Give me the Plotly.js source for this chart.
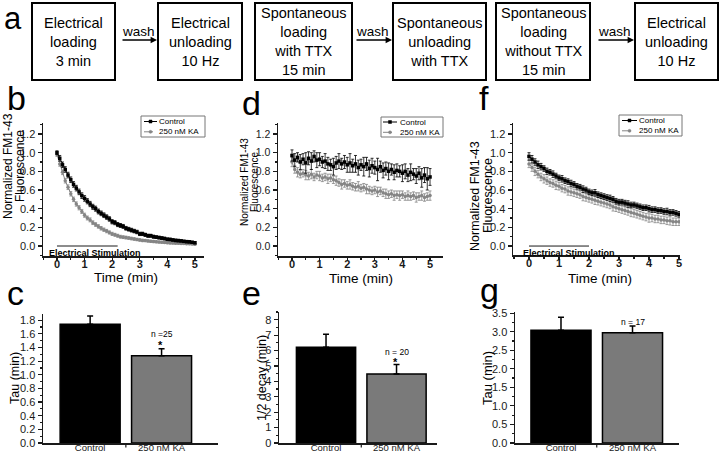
<!DOCTYPE html>
<html><head><meta charset="utf-8">
<script src="https://cdn.plot.ly/plotly-3.0.1.min.js"></script>
<style>html,body{margin:0;padding:0;background:#fff}#chart{width:720px;height:455px}</style>
</head><body><div id="chart"></div>
<script>
// ---------- DATA ----------
const steps = ["Electrical<br>loading<br>3 min", "Electrical<br>unloading<br>10 Hz",
  "Spontaneous<br>loading<br>with TTX<br>15 min", "Spontaneous<br>unloading<br>with TTX",
  "Spontaneous<br>loading<br>without TTX<br>15 min", "Electrical<br>unloading<br>10 Hz"];
const washLabel = "wash";
const seriesNames = ["Control", "250 nM KA"];
const groups = ["Control", "250 nM KA"];

const time = [0,0.1,0.2,0.3,0.4,0.5,0.6,0.7,0.8,0.9,1.0,1.1,1.2,1.3,1.4,1.5,1.6,1.7,1.8,1.9,
  2.0,2.1,2.2,2.3,2.4,2.5,2.6,2.7,2.8,2.9,3.0,3.1,3.2,3.3,3.4,3.5,3.6,3.7,3.8,3.9,
  4.0,4.1,4.2,4.3,4.4,4.5,4.6,4.7,4.8,4.9,5.0];

// panel b
const bCtrl = [1.00,0.94,0.87,0.82,0.76,0.71,0.66,0.62,0.58,0.54,
  0.51,0.48,0.45,0.42,0.40,0.37,0.35,0.33,0.31,0.29,
  0.26,0.25,0.23,0.22,0.21,0.19,0.18,0.17,0.16,0.15,
  0.13,0.13,0.12,0.11,0.11,0.10,0.095,0.09,0.085,0.08,
  0.072,0.07,0.065,0.06,0.058,0.055,0.05,0.047,0.045,0.04,0.035];
const bCtrlErr = [0.02,0.03,0.03,0.03,0.03,0.03,0.03,0.03,0.03,0.03,
  0.03,0.028,0.028,0.027,0.027,0.026,0.025,0.025,0.024,0.024,
  0.023,0.022,0.022,0.021,0.021,0.02,0.02,0.02,0.019,0.019,
  0.018,0.018,0.017,0.017,0.016,0.016,0.015,0.015,0.015,0.014,
  0.014,0.014,0.013,0.013,0.013,0.012,0.012,0.012,0.012,0.011,0.011];
const bKA = [0.98,0.88,0.79,0.70,0.63,0.56,0.50,0.45,0.41,0.37,
  0.33,0.30,0.28,0.25,0.23,0.21,0.19,0.175,0.16,0.145,
  0.13,0.12,0.11,0.10,0.095,0.09,0.085,0.08,0.075,0.07,
  0.065,0.06,0.058,0.055,0.05,0.048,0.045,0.042,0.04,0.038,
  0.035,0.033,0.031,0.03,0.029,0.027,0.026,0.025,0.024,0.022,0.02];
const bKAErr = [0.02,0.025,0.025,0.025,0.025,0.024,0.024,0.023,0.023,0.022,
  0.022,0.021,0.021,0.02,0.02,0.019,0.019,0.018,0.018,0.017,
  0.017,0.016,0.016,0.015,0.015,0.015,0.014,0.014,0.014,0.013,
  0.013,0.013,0.012,0.012,0.012,0.012,0.011,0.011,0.011,0.011,
  0.01,0.01,0.01,0.01,0.01,0.01,0.01,0.01,0.01,0.01,0.01];

// panel d
const dCtrl = [0.97,0.92,0.95,0.90,0.93,0.89,0.94,0.91,0.96,0.92,
  0.93,0.90,0.91,0.88,0.87,0.85,0.89,0.91,0.88,0.90,
  0.87,0.89,0.86,0.88,0.84,0.87,0.85,0.88,0.83,0.86,
  0.84,0.82,0.85,0.81,0.83,0.80,0.82,0.79,0.81,0.80,
  0.78,0.80,0.76,0.79,0.77,0.75,0.78,0.73,0.76,0.72,0.74];
const dCtrlErr = [0.06,0.07,0.05,0.08,0.06,0.11,0.07,0.09,0.06,0.08,
  0.07,0.06,0.08,0.07,0.06,0.09,0.07,0.08,0.06,0.07,
  0.08,0.10,0.07,0.09,0.08,0.06,0.10,0.07,0.09,0.08,
  0.07,0.12,0.06,0.08,0.07,0.09,0.06,0.08,0.07,0.06,
  0.09,0.08,0.07,0.09,0.06,0.08,0.07,0.10,0.08,0.12,0.09];
const dKA = [0.90,0.82,0.79,0.77,0.78,0.76,0.75,0.77,0.74,0.76,
  0.75,0.73,0.74,0.72,0.73,0.71,0.70,0.68,0.66,0.67,
  0.65,0.66,0.64,0.63,0.64,0.62,0.63,0.61,0.60,0.59,
  0.60,0.58,0.59,0.57,0.56,0.55,0.56,0.54,0.55,0.54,
  0.55,0.53,0.54,0.53,0.54,0.52,0.53,0.54,0.52,0.53,0.54];
const dKAErr = [0.05,0.04,0.05,0.04,0.04,0.05,0.04,0.05,0.04,0.04,
  0.05,0.04,0.04,0.05,0.04,0.04,0.05,0.04,0.05,0.04,
  0.04,0.05,0.04,0.04,0.05,0.04,0.04,0.05,0.04,0.04,
  0.04,0.05,0.04,0.04,0.05,0.04,0.04,0.05,0.04,0.05,
  0.04,0.04,0.05,0.04,0.04,0.05,0.04,0.05,0.04,0.04,0.05];

// panel f
const fCtrl = [0.96,0.93,0.90,0.87,0.85,0.83,0.80,0.79,0.77,0.75,
  0.73,0.72,0.70,0.69,0.67,0.66,0.64,0.63,0.61,0.60,
  0.58,0.57,0.57,0.55,0.54,0.53,0.52,0.51,0.50,0.48,
  0.47,0.47,0.46,0.45,0.44,0.44,0.43,0.42,0.41,0.41,
  0.40,0.39,0.39,0.38,0.38,0.37,0.37,0.36,0.36,0.35,0.34];
const fCtrlErr = [0.04,0.04,0.035,0.04,0.035,0.03,0.035,0.03,0.035,0.03,
  0.03,0.035,0.03,0.03,0.035,0.03,0.03,0.03,0.035,0.03,
  0.03,0.03,0.035,0.03,0.03,0.03,0.03,0.035,0.03,0.03,
  0.03,0.03,0.03,0.035,0.03,0.03,0.03,0.03,0.03,0.03,
  0.035,0.03,0.03,0.03,0.03,0.03,0.035,0.03,0.03,0.03,0.03];
const fKA = [0.88,0.84,0.80,0.77,0.74,0.72,0.70,0.68,0.67,0.65,
  0.64,0.62,0.61,0.59,0.58,0.57,0.56,0.55,0.53,0.52,
  0.51,0.50,0.49,0.48,0.47,0.46,0.45,0.44,0.42,0.41,
  0.40,0.39,0.38,0.37,0.36,0.35,0.34,0.33,0.32,0.31,
  0.30,0.30,0.29,0.29,0.28,0.28,0.27,0.27,0.26,0.26,0.26];
const fKAErr = [0.04,0.04,0.045,0.04,0.04,0.045,0.04,0.04,0.04,0.045,
  0.04,0.04,0.04,0.045,0.04,0.04,0.04,0.04,0.045,0.04,
  0.04,0.04,0.045,0.04,0.04,0.04,0.04,0.04,0.045,0.04,
  0.04,0.04,0.04,0.04,0.045,0.04,0.04,0.04,0.04,0.04,
  0.045,0.04,0.04,0.04,0.04,0.04,0.04,0.045,0.04,0.04,0.04];

// bar panels
const cTau = [1.74, 1.28];
const cErr = [0.12, 0.10];
const eHalf = [6.22, 4.48];
const eErr = [0.83, 0.62];
const gTau = [3.04, 2.97];
const gErr = [0.35, 0.18];
const nLabels = ["n =25", "n = 20", "n = 17"];

// ---------- HELPERS ----------
const W = 720, H = 455;
const px = v => v / W;
const py = v => 1 - v / H;
const FONT = "Liberation Sans, Arial, sans-serif";
const INK = "#1a1a1a";
const GRAY = "#858585";

function lineTrace(x, y, err, xa, ya, isCtrl, name) {
  return {
    type: "scatter", mode: "lines+markers", x: x, y: y, name: name,
    xaxis: xa, yaxis: ya, showlegend: false,
    line: {color: isCtrl ? "#000" : GRAY, width: 1},
    marker: {symbol: isCtrl ? "square" : "circle", size: 3.5, color: isCtrl ? "#000" : GRAY},
    error_y: {type: "data", array: err, color: isCtrl ? "#000" : GRAY, thickness: 0.8, width: 1.5}
  };
}
function barTrace(cats, vals, errs, xa, ya) {
  return {
    type: "bar", x: cats, y: vals, xaxis: xa, yaxis: ya, width: 0.84, showlegend: false,
    marker: {color: ["#000000", "#7a7a7a"], line: {color: "#000", width: 1.5}},
    error_y: {type: "data", symmetric: false, array: errs, arrayminus: [0, 0], color: "#000", thickness: 1.5, width: 3}
  };
}

const traces = [
  lineTrace(time, bKA, bKAErr, "x", "y", false, seriesNames[1]),
  lineTrace(time, bCtrl, bCtrlErr, "x", "y", true, seriesNames[0]),
  lineTrace(time, dKA, dKAErr, "x2", "y2", false, seriesNames[1]),
  lineTrace(time, dCtrl, dCtrlErr, "x2", "y2", true, seriesNames[0]),
  lineTrace(time, fKA, fKAErr, "x3", "y3", false, seriesNames[1]),
  lineTrace(time, fCtrl, fCtrlErr, "x3", "y3", true, seriesNames[0]),
  barTrace(groups, cTau, cErr, "x4", "y4"),
  barTrace(groups, eHalf, eErr, "x5", "y5"),
  barTrace(groups, gTau, gErr, "x6", "y6")
];

function axBase(extra) {
  return Object.assign({
    showline: true, linecolor: INK, linewidth: 1.5, ticks: "outside", ticklen: 4,
    tickwidth: 1.2, tickcolor: INK, showgrid: false, zeroline: false, fixedrange: true,
    tickfont: {family: FONT, size: 11, color: INK}
  }, extra);
}
function timeX(l, r, range, anchor) {
  return axBase({domain: [px(l), px(r)], range: range, anchor: anchor, dtick: 1, tick0: 0, ticklen: 3,
    ticklabelstandoff: -6,
    tickfont: {family: FONT, size: 11, color: INK, weight: "bold"},
    minor: {ticks: "outside", ticklen: 2, tickcolor: INK, dtick: 0.5}});
}
function fluoY(t, b, range, anchor, fs) {
  return axBase({domain: [py(b), py(t)], range: range, anchor: anchor, dtick: 0.2, tick0: 0, tickformat: ".1f",
    tickfont: {family: FONT, size: fs, color: INK},
    minor: {ticks: "outside", ticklen: 2, tickcolor: INK, dtick: 0.1}});
}
function catX(l, r, range, anchor) {
  return axBase({domain: [px(l), px(r)], range: range, anchor: anchor, type: "category", ticks: "",
    ticklabelstandoff: -5,
    tickfont: {family: FONT, size: 9.5, color: INK}});
}
function barY(t, b, range, anchor, dtick, fmt) {
  return axBase({domain: [py(b), py(t)], range: range, anchor: anchor, dtick: dtick, tick0: 0, tickformat: fmt,
    minor: {ticks: "outside", ticklen: 2, tickcolor: INK, dtick: dtick / 2}});
}

const shapes = [];
const annotations = [];
function ann(text, x, y, size, o) {
  annotations.push(Object.assign({text: text, x: px(x), y: py(y), xref: "paper", yref: "paper",
    showarrow: false, font: {family: FONT, size: size, color: "#000"}, xanchor: "center", yanchor: "middle"}, o || {}));
}

// flow boxes
const boxes = [[32,115],[158,242],[255,352],[393,486],[496,590],[635,718]];
boxes.forEach((b, i) => {
  shapes.push({type: "rect", xref: "paper", yref: "paper", x0: px(b[0]), x1: px(b[1]), y0: py(80), y1: py(3),
    line: {color: "#000", width: 2}});
  ann(steps[i], (b[0] + b[1]) / 2, 41.5, 14.5);
});
// wash arrows
[[121,157,138],[355,392,372],[597,634,614]].forEach(w => {
  ann(washLabel, w[2], 32, 13.5);
  annotations.push({text: "", x: px(w[1]), y: py(40), xref: "paper", yref: "paper", ax: w[0] - w[1], ay: 0,
    showarrow: true, arrowhead: 2, arrowsize: 0.8, arrowwidth: 1.6, arrowcolor: "#000", standoff: 0});
});

// panel letters
ann("a", 13, 0, 31, {yanchor: "top", borderpad: 0});
[["b",16,98],["c",15,293],["d",251,103],["e",252,293],["f",484,98],["g",489,290]].forEach(l => ann(l[0], l[1], l[2], 34));

// y titles (line panels)
ann("Normalized FM1-43", 8, 166, 12, {textangle: -90});
ann("Fluorescence", 20, 166, 12, {textangle: -90});
ann("Normalized FM1-43", 244, 182, 10, {textangle: -90});
ann("Fluorescence", 254, 182, 10, {textangle: -90});
ann("Normalized FM1-43", 475, 196, 12.5, {textangle: -90});
ann("Fluorescence", 488, 196, 12.5, {textangle: -90});
// x titles
ann("Time (min)", 126, 277, 13.5);
ann("Time (min)", 361, 278, 13.5);
ann("Time (min)", 600, 278, 13.5);
// bar y titles
ann("Tau (min)", 15, 378, 12.5, {textangle: -90});
ann("1/2 decay (min)", 262, 378, 12.5, {textangle: -90});
ann("Tau (min)", 487, 378, 13, {textangle: -90});

// electrical stimulation markers
shapes.push({type: "line", xref: "x", yref: "y", x0: 0, x1: 2.2, y0: 0, y1: 0, line: {color: INK, width: 1}});
annotations.push({text: "<b>Electrical Stimulation</b>", x: 1.38, y: -0.075, xref: "x", yref: "y", showarrow: false,
  font: {family: FONT, size: 9, color: "#000"}});
shapes.push({type: "line", xref: "x3", yref: "y3", x0: 0, x1: 2.0, y0: 0, y1: 0, line: {color: INK, width: 1}});
annotations.push({text: "<b>Electrical Stimulation</b>", x: 1.32, y: -0.075, xref: "x3", yref: "y3", showarrow: false,
  font: {family: FONT, size: 9, color: "#000"}});

// manual legends (one text block per legend)
function legend(l, r, t, b, rows, lineL, lineR, textX) {
  shapes.push({type: "rect", xref: "paper", yref: "paper", x0: px(l), x1: px(r), y0: py(b), y1: py(t),
    line: {color: "#777", width: 1}, fillcolor: "#fff"});
  seriesNames.forEach((nm, i) => {
    const ctrl = i === 0, yy = rows[i], mid = (lineL + lineR) / 2;
    shapes.push({type: "line", xref: "paper", yref: "paper", x0: px(lineL), x1: px(lineR), y0: py(yy), y1: py(yy),
      line: {color: ctrl ? "#000" : GRAY, width: 1, dash: ctrl ? "solid" : "dash"}});
    shapes.push({type: ctrl ? "rect" : "circle", xref: "paper", yref: "paper", x0: px(mid - 1.5), x1: px(mid + 1.5),
      y0: py(yy + 1.5), y1: py(yy - 1.5), line: {color: ctrl ? "#000" : GRAY, width: 0.5}, fillcolor: ctrl ? "#000" : GRAY});
  });
  ann(seriesNames.join("<br>"), textX, (rows[0] + rows[1]) / 2, 8, {xanchor: "left", align: "left", borderpad: 0});
}
legend(141, 205, 116, 137, [121.5, 131.8], 144, 157, 158);
legend(381, 443, 117, 137, [122, 132.3], 383, 397, 399);
legend(619, 682, 115, 136, [120.5, 130.8], 622, 637, 638);

// n labels and stars
annotations.push({text: nLabels[0], x: 1, y: 1.60, xref: "x4", yref: "y4", showarrow: false, font: {family: FONT, size: 8.5, color: "#000"}});
annotations.push({text: "<b>*</b>", x: 0.98, y: 1.44, xref: "x4", yref: "y4", showarrow: false, font: {family: FONT, size: 11, color: "#000"}});
annotations.push({text: nLabels[1], x: 1, y: 5.9, xref: "x5", yref: "y5", showarrow: false, font: {family: FONT, size: 8.5, color: "#000"}});
annotations.push({text: "<b>*</b>", x: 0.98, y: 5.28, xref: "x5", yref: "y5", showarrow: false, font: {family: FONT, size: 11, color: "#000"}});
annotations.push({text: nLabels[2], x: 1, y: 3.26, xref: "x6", yref: "y6", showarrow: false, font: {family: FONT, size: 8.5, color: "#000"}});
// category separator ticks
["x4","x5","x6"].forEach((xa, i) => {
  const ya = ["y4","y5","y6"][i];
  shapes.push({type: "line", xref: xa, yref: ya + " domain", x0: 0.5, x1: 0.5, y0: 0, y1: -0.035, line: {color: INK, width: 1.2}});
});

const layout = {
  width: W, height: H, margin: {l: 0, r: 0, t: 0, b: 0},
  paper_bgcolor: "#fff", plot_bgcolor: "rgba(0,0,0,0)", showlegend: false,
  font: {family: FONT, color: "#000"}, bargap: 0,
  xaxis: timeX(43, 204, [-0.507, 5.33], "y"),
  yaxis: fluoY(123, 256, [-0.107, 1.318], "x", 11),
  xaxis2: timeX(278, 443, [-0.507, 5.47], "y2"),
  yaxis2: fluoY(123, 256, [-0.107, 1.318], "x2", 10.5),
  xaxis3: timeX(513, 680, [-0.533, 5.033], "y3"),
  yaxis3: fluoY(123, 255, [-0.096, 1.318], "x3", 11),
  xaxis4: catX(43, 218, [-0.66, 1.79], "y4"),
  yaxis4: barY(314, 443, [0, 1.89], "x4", 0.2, ".1f"),
  xaxis5: catX(279, 437, [-0.667, 1.574], "y5"),
  yaxis5: barY(312, 443, [0, 8.5], "x5", 1, "d"),
  xaxis6: catX(515, 679, [-0.643, 1.65], "y6"),
  yaxis6: barY(312, 443, [0, 3.53], "x6", 0.5, ".1f"),
  shapes: shapes, annotations: annotations
};
Plotly.newPlot("chart", traces, layout, {displayModeBar: false, staticPlot: true});
</script></body></html>
